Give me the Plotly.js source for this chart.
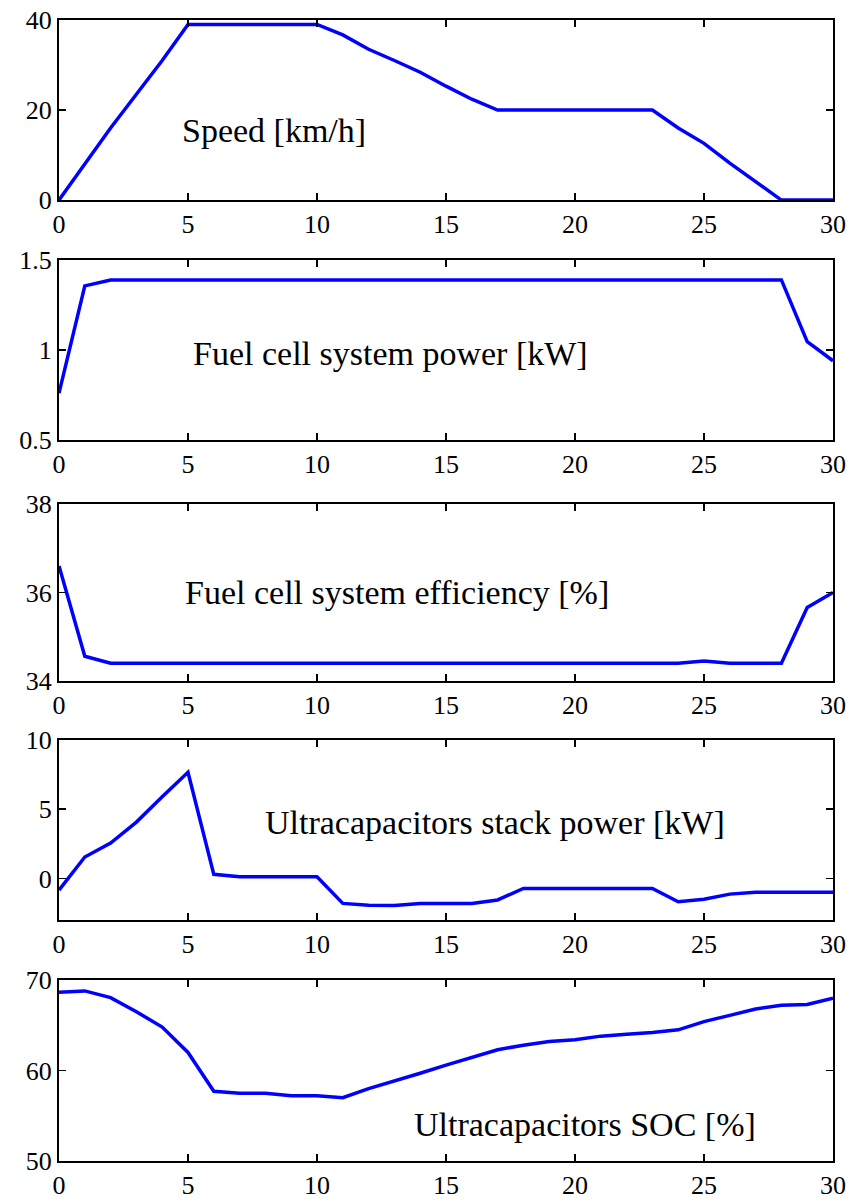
<!DOCTYPE html>
<html><head><meta charset="utf-8">
<script src="https://cdn.plot.ly/plotly-3.0.1.min.js"></script>
<style>body{margin:0;background:#fff}#chart{width:849px;height:1200px}</style>
</head><body><div id="chart"></div>
<script>
const time = [0,1,2,3,4,5,6,7,8,9,10,11,12,13,14,15,16,17,18,19,20,21,22,23,24,25,26,27,28,29,30];
const speed = [0,8,16,23.5,31,39,39,39,39,39,39,36.7,33.5,31,28.4,25.3,22.4,20,20,20,20,20,20,20,16,12.6,8.2,4,0,0,0];
const fcPower = [0.76,1.356,1.389,1.389,1.389,1.389,1.389,1.389,1.389,1.389,1.389,1.389,1.389,1.389,1.389,1.389,1.389,1.389,1.389,1.389,1.389,1.389,1.389,1.389,1.389,1.389,1.389,1.389,1.389,1.046,0.94];
const fcEff = [36.6,34.56,34.4,34.4,34.4,34.4,34.4,34.4,34.4,34.4,34.4,34.4,34.4,34.4,34.4,34.4,34.4,34.4,34.4,34.4,34.4,34.4,34.4,34.4,34.4,34.45,34.4,34.4,34.4,35.66,36.0];
const ucPower = [-0.84,1.55,2.56,4.07,5.9,7.67,0.3,0.12,0.12,0.12,0.12,-1.8,-1.93,-1.95,-1.8,-1.8,-1.8,-1.55,-0.72,-0.72,-0.72,-0.72,-0.72,-0.72,-1.68,-1.5,-1.13,-1.0,-1.0,-1.0,-1.0];
const ucSoc = [68.64,68.8,68.05,66.5,64.8,62.0,57.7,57.5,57.5,57.2,57.2,57.0,58.0,58.8,59.7,60.6,61.4,62.3,62.8,63.2,63.4,63.8,64.0,64.2,64.5,65.4,66.1,66.8,67.2,67.3,68.0];
const labels = ["Speed [km/h]","Fuel cell system power [kW]","Fuel cell system efficiency [%]","Ultracapacitors stack power [kW]","Ultracapacitors SOC [%]"];
const yRanges = [[0,40],[0.5,1.5],[34,38],[-3,10],[50,70]];
const yTicks = [[0,20,40],[0.5,1,1.5],[34,36,38],[0,5,10],[50,60,70]];
const yTickText = [["0","20","40"],["0.5","1","1.5"],["34","36","38"],["0","5","10"],["50","60","70"]];
const xTicks = [0,5,10,15,20,25,30];
const annX = [4.7,5.1,4.8,7.9,13.7];
const annY = [15.5,0.98,36,4.05,54];

const series = [speed,fcPower,fcEff,ucPower,ucSoc];
const domains = [[0.8422,1.0],[0.6319,0.7897],[0.4207,0.5758],[0.2112,0.3690],[0,0.1586]];
const font = "Liberation Serif";
const traces = [];
const layout = {
  width:849,height:1200,
  margin:{l:59,r:16,t:20,b:39},
  showlegend:false,
  paper_bgcolor:"#fff",plot_bgcolor:"#fff",
  font:{family:font,size:26,color:"#000"},
  annotations:[]
};
series.forEach((s,i)=>{
  const n = i===0?"":String(i+1);
  traces.push({x:time,y:s,type:"scatter",mode:"lines",xaxis:"x"+n,yaxis:"y"+n,
    line:{color:"#0000ff",width:3.5},hoverinfo:"skip"});
  layout["xaxis"+n] = {domain:[0,1],range:[0,30],anchor:"y"+n,tickvals:xTicks,
    ticks:"inside",ticklen:7,tickwidth:1.5,tickcolor:"#000",showline:true,linewidth:2,linecolor:"#000",
    mirror:"ticks",showgrid:false,zeroline:false,tickfont:{family:font,size:26,color:"#000"}};
  layout["yaxis"+n] = {domain:domains[i],range:yRanges[i],anchor:"x"+n,tickvals:yTicks[i],ticktext:yTickText[i],
    ticks:"inside",ticklen:7,tickwidth:1.5,tickcolor:"#000",showline:true,linewidth:2,linecolor:"#000",
    mirror:"ticks",showgrid:false,zeroline:false,tickfont:{family:font,size:26,color:"#000"}};
  layout.annotations.push({xref:"x"+n,yref:"y"+n,x:annX[i],y:annY[i],xanchor:"left",yanchor:"middle",
    text:labels[i],showarrow:false,font:{family:font,size:34,color:"#000"}});
});
Plotly.newPlot("chart",traces,layout,{staticPlot:true});
</script></body></html>
